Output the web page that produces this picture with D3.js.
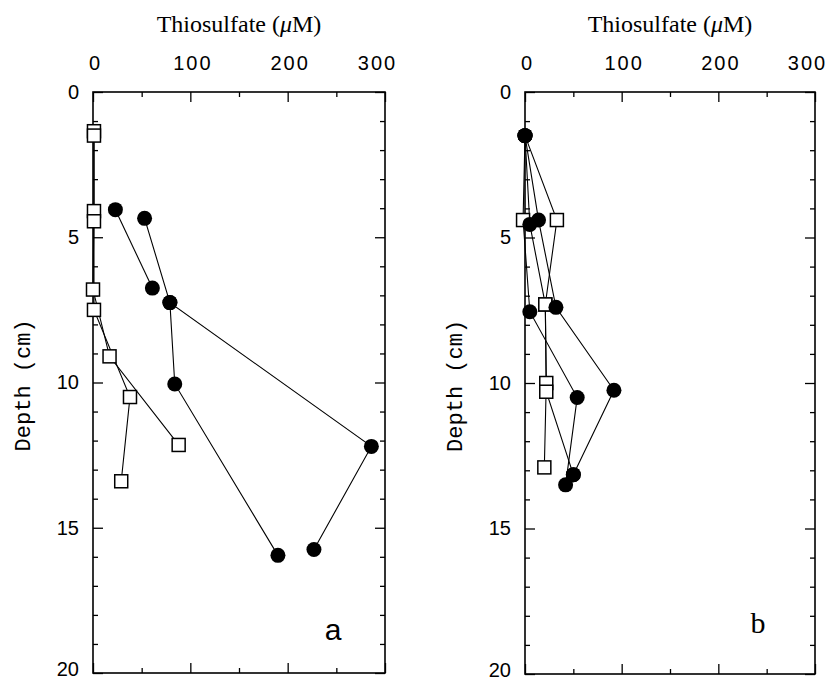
<!DOCTYPE html>
<html>
<head>
<meta charset="utf-8">
<script src="https://cdn.jsdelivr.net/npm/d3@7"></script>
<style>
  body { margin: 0; background: #fff; }
</style>
</head>
<body>
<div id="chart"></div>
<script>
// axis ticks
var xMajor = [0, 100, 200, 300];
var xMinor = [50, 150, 250];
var yMajor = [0, 5, 10, 15, 20];
var yMinor = [1, 2, 3, 4, 6, 7, 8, 9, 11, 12, 13, 14, 16, 17, 18, 19];

// panel a profiles: [thiosulfate uM, depth cm, marker]  s = open square, o = filled circle
var aSq1 = [[1, 1.35, "s"], [1, 4.1, "s"], [0, 6.8, "s"], [17, 9.1, "s"], [88, 12.15, "s"]];
var aSq2 = [[1, 1.5, "s"], [1, 4.45, "s"], [1, 7.5, "s"], [38, 10.5, "s"], [29, 13.4, "s"]];
var aDot1 = [[23, 4.05, "o"], [61, 6.75, "o"]];
var aDot2 = [[53, 4.35, "o"], [79, 7.25, "o"], [286, 12.2, "o"], [227, 15.75, "o"]];
var aDot3 = [[79, 7.25, "o"], [84, 10.05, "o"], [190, 15.95, "o"]];

// panel b profiles
var bP1 = [[0, 1.5, "o"], [-2, 4.4, "s"], [5, 7.55, "o"], [54, 10.5, "o"], [42, 13.5, "o"]];
var bP2 = [[0, 1.5, "o"], [5, 4.55, "o"], [21, 7.3, "s"], [22, 10.0, "s"], [20, 12.9, "s"]];
var bP3 = [[0, 1.5, "o"], [14, 4.4, "o"], [32, 7.4, "o"], [92, 10.25, "o"], [50, 13.15, "o"]];
var bP4 = [[0, 1.5, "o"], [33, 4.4, "s"], [21, 7.3, "s"], [22, 10.3, "s"], [50, 13.15, "o"]];

var aProfiles = [aSq1, aSq2, aDot1, aDot2, aDot3];
var bProfiles = [bP1, bP2, bP3, bP4];

var width = 833;
var height = 682;
var sq = 13;
var r = 7.5;

var svg = d3.select("#chart")
    .append("svg")
    .attr("width", width)
    .attr("height", height)
    .style("display", "block")
    .style("font-family", "'DejaVu Sans', sans-serif");

function panel(left, top, w, h, profiles, letter, letterFont, letterPos) {
    var x = d3.scaleLinear().domain([0, 300]).range([0, w]);
    var y = d3.scaleLinear().domain([0, 20]).range([0, h]);

    var g = svg.append("g")
        .attr("transform", "translate(" + left + "," + top + ")");

    // title
    var title = g.append("text")
        .attr("x", w / 2)
        .attr("y", -60)
        .attr("text-anchor", "middle")
        .style("font-family", "'Liberation Serif', serif")
        .style("font-size", "24px");
    title.append("tspan").text("Thiosulfate (");
    title.append("tspan").style("font-style", "italic").text("\u03bc");
    title.append("tspan").text("M)");

    // y label
    g.append("text")
        .attr("transform", "translate(-71," + (h * 0.505) + ") rotate(-90)")
        .attr("text-anchor", "middle")
        .attr("dy", "0.35em")
        .style("font-family", "'Liberation Mono', monospace")
        .style("font-size", "22px")
        .text("Depth (cm)");

    // major / minor ticks on all four sides, pointing inward
    var top1 = g.append("g").call(d3.axisTop(x).tickValues(xMajor).tickSize(-10).tickPadding(22).tickFormat(d3.format("d")));
    top1.selectAll("text")
        .style("font-size", "20px")
        .style("letter-spacing", "2px")
        .attr("dx", function(d) { return d === 300 ? -8 : 2; });
    g.append("g").call(d3.axisTop(x).tickValues(xMinor).tickSize(-5).tickFormat(""));
    g.append("g").attr("transform", "translate(0," + h + ")")
        .call(d3.axisBottom(x).tickValues(xMajor).tickSize(-10).tickFormat(""));
    g.append("g").attr("transform", "translate(0," + h + ")")
        .call(d3.axisBottom(x).tickValues(xMinor).tickSize(-5).tickFormat(""));

    var left1 = g.append("g").call(d3.axisLeft(y).tickValues(yMajor).tickSize(-10).tickPadding(14));
    left1.selectAll("text")
        .style("font-size", "20px")
        .attr("dy", function(d) { return d === 20 ? "0.1em" : "0.32em"; });
    g.append("g").call(d3.axisLeft(y).tickValues(yMinor).tickSize(-5).tickFormat(""));
    g.append("g").attr("transform", "translate(" + w + ",0)")
        .call(d3.axisRight(y).tickValues(yMajor).tickSize(-10).tickFormat(""));
    g.append("g").attr("transform", "translate(" + w + ",0)")
        .call(d3.axisRight(y).tickValues(yMinor).tickSize(-5).tickFormat(""));

    g.selectAll(".domain").remove();
    g.selectAll(".tick line").attr("stroke", "#000").attr("stroke-width", 1.3);
    g.selectAll(".tick text").attr("fill", "#000");

    g.append("rect")
        .attr("width", w)
        .attr("height", h)
        .attr("fill", "none")
        .attr("stroke", "#000")
        .attr("stroke-width", 1.6);

    var line = d3.line()
        .x(function(d) { return x(d[0]); })
        .y(function(d) { return y(d[1]); });

    g.selectAll(".profile")
        .data(profiles)
        .enter()
        .append("path")
        .classed("profile", true)
        .attr("d", line)
        .attr("fill", "none")
        .attr("stroke", "#000")
        .attr("stroke-width", 1.1);

    var pts = d3.merge(profiles);

    g.selectAll(".sq")
        .data(pts.filter(function(d) { return d[2] === "s"; }))
        .enter()
        .append("rect")
        .classed("sq", true)
        .attr("x", function(d) { return x(d[0]) - sq / 2; })
        .attr("y", function(d) { return y(d[1]) - sq / 2; })
        .attr("width", sq)
        .attr("height", sq)
        .attr("fill", "#fff")
        .attr("stroke", "#000")
        .attr("stroke-width", 1.5);

    g.selectAll(".dot")
        .data(pts.filter(function(d) { return d[2] === "o"; }))
        .enter()
        .append("circle")
        .classed("dot", true)
        .attr("cx", function(d) { return x(d[0]); })
        .attr("cy", function(d) { return y(d[1]); })
        .attr("r", r)
        .attr("fill", "#000");

    g.append("text")
        .attr("x", letterPos[0])
        .attr("y", letterPos[1])
        .attr("text-anchor", "middle")
        .style("font-family", letterFont)
        .style("font-size", "30px")
        .text(letter);
}

panel(93, 92, 292, 581, aProfiles, "a", "'Liberation Sans', sans-serif", [240, 548]);
panel(525, 92, 290, 582, bProfiles, "b", "'Liberation Serif', serif", [233, 541]);
</script>
</body>
</html>
